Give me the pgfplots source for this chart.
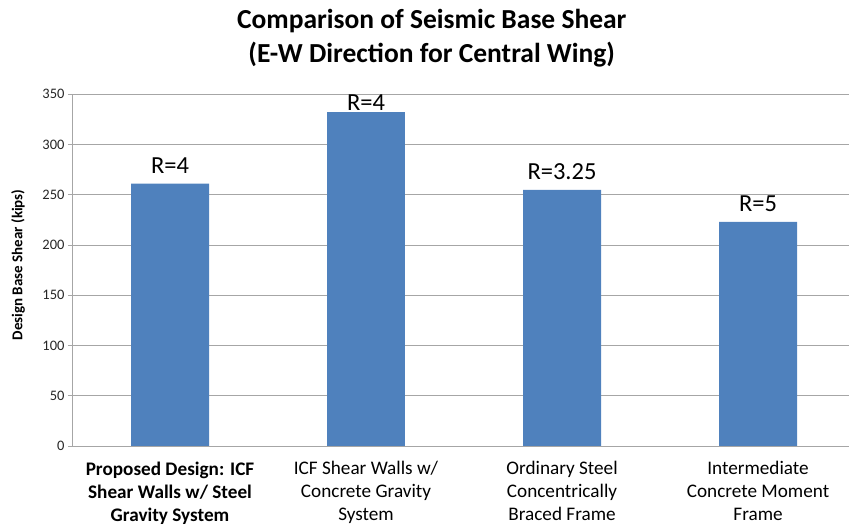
\documentclass[border=0pt]{standalone}
\usepackage{pgfplots}
\pgfplotsset{compat=1.18}
\usepackage{fontspec}
\setmainfont{Carlito}
\definecolor{barblue}{HTML}{4F81BD}
\definecolor{gridgray}{HTML}{A6A6A6}
\begin{document}
\begin{tikzpicture}
\path[use as bounding box] (0,0) rectangle (849pt,525pt);
\begin{axis}[
  at={(72pt,79pt)}, anchor=south west,
  scale only axis, width=777pt, height=351.7pt,
  xmin=-0.5, xmax=3.464, ymin=0, ymax=350,
  ytick={0,50,...,350},
  xtick={0,1,2,3},
  xticklabels={{\textbf{Proposed Design: ICF}\\\textbf{Shear Walls w/ Steel}\\\textbf{Gravity System}},
               {ICF Shear Walls w/\\Concrete Gravity\\System},
               {Ordinary Steel\\Concentrically\\Braced Frame},
               {Intermediate\\Concrete Moment\\Frame}},
  axis x line*=bottom, axis y line*=left,
  axis line style={gridgray, -, line width=0.8pt},
  ymajorgrids, grid style={gridgray, line width=0.8pt},
  tick align=outside, major tick length=4pt,
  ytick style={gridgray, line width=0.8pt},
  xtick style={draw=none},
  /pgf/number format/assume math mode=true,
  yticklabel style={font=\fontsize{14.5}{16}\selectfont, text=black!85},
  xticklabel style={font=\fontsize{19.2}{23}\selectfont, align=center, text=black, yshift=-8pt},
  title={Comparison of Seismic Base Shear\\(E-W Direction for Central Wing)},
  title style={font=\bfseries\fontsize{27.5}{34}\selectfont, align=center, at={(axis description cs:0.463,1.143)}, anchor=center},
  ylabel={Design Base Shear (kips)},
  ylabel style={font=\bfseries\fontsize{15}{17}\selectfont, at={(axis description cs:-0.0695,0.515)}, anchor=center},
  clip=false,
]
\addplot[ybar, fill=barblue, draw=none, bar width=78pt, bar shift=0pt,
  nodes near coords, point meta=explicit symbolic,
  every node near coord/.append style={font=\fontsize{24.5}{27}\selectfont, anchor=base, yshift=10pt, inner sep=0pt, text=black}]
  table[meta=label] {
x y label
0 261 R=4
2 255 R=3.25
3 223 R=5
};
\addplot[ybar, fill=barblue, draw=none, bar width=78pt, bar shift=0pt,
  nodes near coords, point meta=explicit symbolic,
  every node near coord/.append style={font=\fontsize{24.5}{27}\selectfont, anchor=base, yshift=1pt, inner sep=0pt, text=black}]
  table[meta=label] {
x y label
1 332.5 R=4
};
\end{axis}
\end{tikzpicture}
\end{document}
